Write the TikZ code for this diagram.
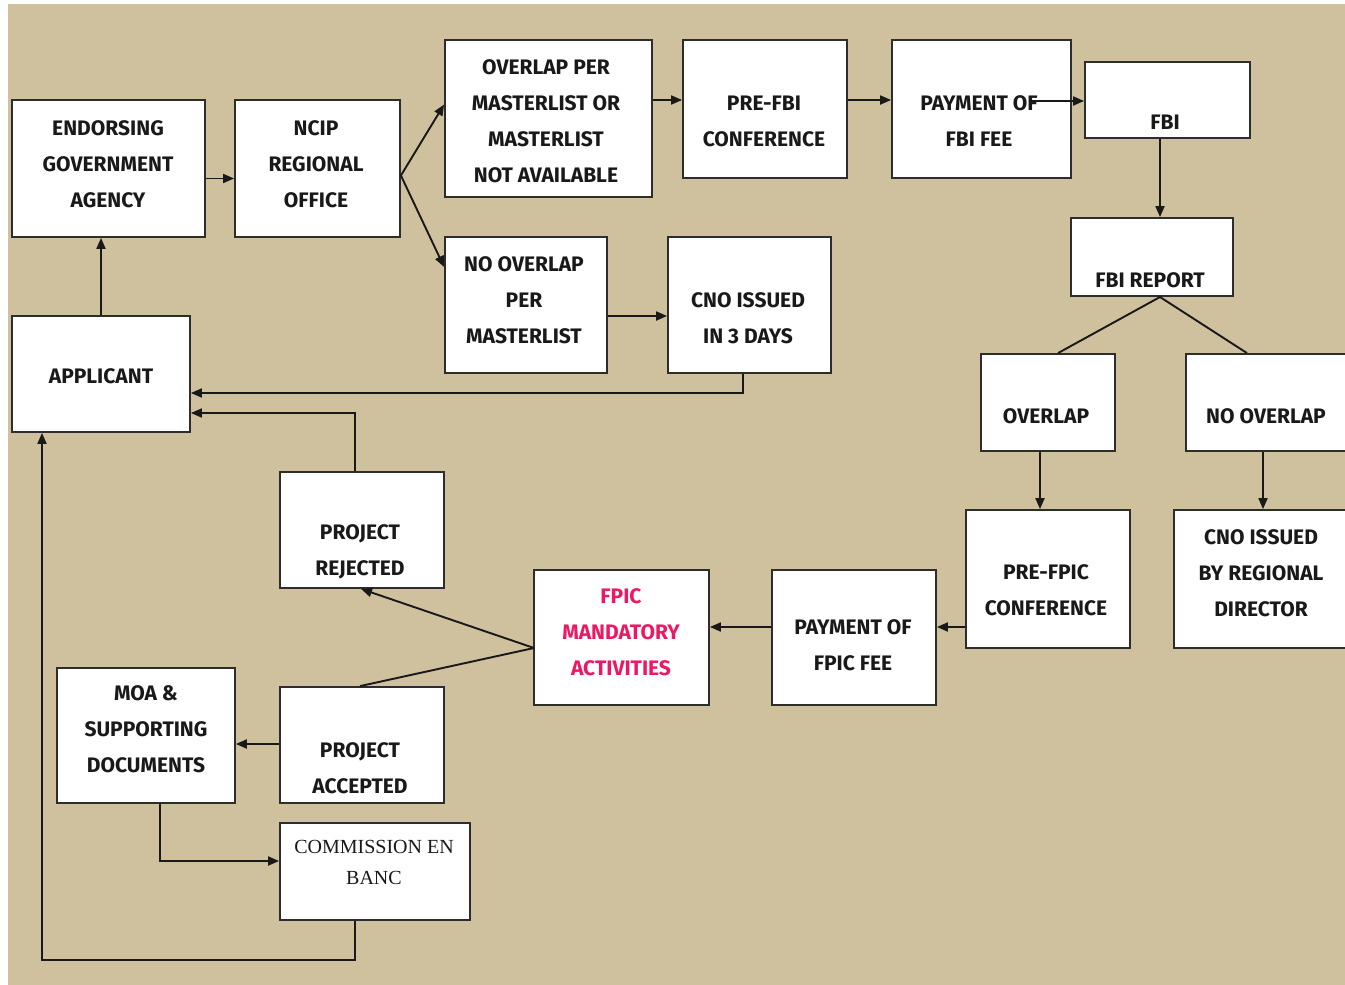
\documentclass[tikz,border=0pt]{standalone}
\usepackage{fontspec}
\setmainfont{Fira Sans}
\newfontfamily\serifnode{Liberation Serif}
\usetikzlibrary{fit,arrows.meta}
\definecolor{bg}{RGB}{208,193,158}
\definecolor{pinkt}{RGB}{235,25,100}
\definecolor{boxc}{RGB}{45,45,45}
\definecolor{txt}{RGB}{25,25,25}
\begin{document}
\begin{tikzpicture}[x=1pt,y=-1pt,
  box/.style={draw=boxc, line width=1.8pt, fill=white, inner sep=0pt},
  lbl/.style={align=center, font=\bfseries\fontsize{21}{36}\selectfont, text=txt, inner sep=0pt},
  conn/.style={line width=1.9pt, draw=black!90},
  arr/.style={conn, -{Triangle[length=11pt,width=9pt]}}]
\useasboundingbox (0,0) rectangle (1345,985);
\fill[bg] (8,4) rectangle (1345,985);
% boxes
\node[box, fit={(12,100)(205,237)}] (endorse) {};
\node[box, fit={(235,100)(400,237)}] (ncip) {};
\node[box, fit={(445,40)(652,197)}] (ovl) {};
\node[box, fit={(683,40)(847,178)}] (prefbi) {};
\node[box, fit={(892,40)(1071,178)}] (payfbi) {};
\node[box, fit={(1085,62)(1250,138)}] (fbi) {};
\node[box, fit={(1071,218)(1233,296)}] (fbirep) {};
\node[box, fit={(445,237)(607,373)}] (noovl) {};
\node[box, fit={(668,237)(831,373)}] (cnothree) {};
\node[box, fit={(12,316)(190,432)}] (applicant) {};
\node[box, fit={(981,354)(1115,451)}] (overlap) {};
\node[box, fit={(1186,354)(1346,451)}] (nooverlap) {};
\node[box, fit={(280,472)(444,588)}] (rejected) {};
\node[box, fit={(966,510)(1130,648)}] (prefpic) {};
\node[box, fit={(1174,510)(1346,648)}] (cnoreg) {};
\node[box, fit={(534,570)(709,705)}] (fpic) {};
\node[box, fit={(772,570)(936,705)}] (payfpic) {};
\node[box, fit={(57,668)(235,803)}] (moa) {};
\node[box, fit={(280,687)(444,803)}] (accepted) {};
\node[box, fit={(280,823)(470,920)}] (commission) {};
% connectors
\coordinate (pf) at (1030,101);
\coordinate (fr) at (534,648);
\coordinate (apex) at (1160,297);
\coordinate (low) at (42,960);
\draw[arr] ([yshift=-10pt]endorse.east) -- ([yshift=-10pt]ncip.west);
\draw[arr] (applicant.north) -- (applicant.north |- endorse.south);
\draw[arr] ([yshift=-7pt]ncip.east) -- ([yshift=14pt]ovl.west);
\draw[arr] ([yshift=-7pt]ncip.east) -- ([yshift=38pt]noovl.west);
\draw[arr] (ovl.east |- 0,100) -- (prefbi.west |- 0,100);
\draw[arr] (prefbi.east |- 0,100) -- (payfbi.west |- 0,100);
\draw[arr] (pf) -- (fbi.west |- pf);
\draw[arr] (fbi.south -| 1160,0) -- (fbirep.north -| 1160,0);
\draw[conn] (overlap.north -| 1058,0) -- (apex) -- (nooverlap.north -| 1247,0);
\draw[arr] (overlap.south -| 1040,0) -- (prefpic.north -| 1040,0);
\draw[arr] (nooverlap.south -| 1263,0) -- (cnoreg.north -| 1263,0);
\draw[arr] (noovl.east |- 0,316) -- (cnothree.west |- 0,316);
\draw[arr] (prefpic.west |- 0,627) -- (payfpic.east |- 0,627);
\draw[arr] (payfpic.west |- 0,627) -- (fpic.east |- 0,627);
\draw[arr] (fr) -- (rejected.south -| 361,0);
\draw[conn] (fr) -- (accepted.north -| 360,0);
\draw[arr] (accepted.west |- 0,744) -- (moa.east |- 0,744);
\draw[arr] (moa.south -| 160,0) |- (commission.west |- 0,861);
\draw[arr] (commission.south -| 355,0) |- (low) -- (applicant.south -| low);
\draw[arr] (cnothree.south -| 743,0) |- (applicant.east |- 0,393);
\draw[arr] (rejected.north -| 355,0) |- (applicant.east |- 0,413);
% texts
\node[lbl] (t1) at (108,164) {ENDORSING\\GOVERNMENT\\AGENCY};
\node[lbl] (t2) at (316,164) {NCIP\\REGIONAL\\OFFICE};
\node[lbl] (t3) at (546,121) {OVERLAP PER\\MASTERLIST OR\\MASTERLIST\\NOT AVAILABLE};
\node[lbl] (t4) at (764,121) {PRE-FBI\\CONFERENCE};
\node[lbl] (t5) at (979,121) {PAYMENT OF\\FBI FEE};
\node[lbl] (t6) at (1165,122) {FBI};
\node[lbl] (t7) at (1150,280) {FBI REPORT};
\node[lbl] (t8) at (524,300) {NO OVERLAP\\PER\\MASTERLIST};
\node[lbl] (t9) at (748,318) {CNO ISSUED\\IN 3 DAYS};
\node[lbl] (t10) at (101,376) {APPLICANT};
\node[lbl] (t11) at (1046,416) {OVERLAP};
\node[lbl] (t12) at (1266,416) {NO OVERLAP};
\node[lbl] (t13) at (360,552) {PROJECT\\REJECTED};
\node[lbl] (t14) at (1046,590) {PRE-FPIC\\CONFERENCE};
\node[lbl] (t15) at (1261,573) {CNO ISSUED\\BY REGIONAL\\DIRECTOR};
\node[lbl, text=pinkt] (t16) at (621,632) {FPIC\\MANDATORY\\ACTIVITIES};
\node[lbl] (t17) at (853,645) {PAYMENT OF\\FPIC FEE};
\node[lbl] (t18) at (146,729) {MOA \&\\SUPPORTING\\DOCUMENTS};
\node[lbl] (t19) at (360,768) {PROJECT\\ACCEPTED};
\node[lbl, font=\serifnode\fontsize{20}{31}\selectfont] (t20) at (374,862) {COMMISSION EN\\BANC};
\end{tikzpicture}
\end{document}
